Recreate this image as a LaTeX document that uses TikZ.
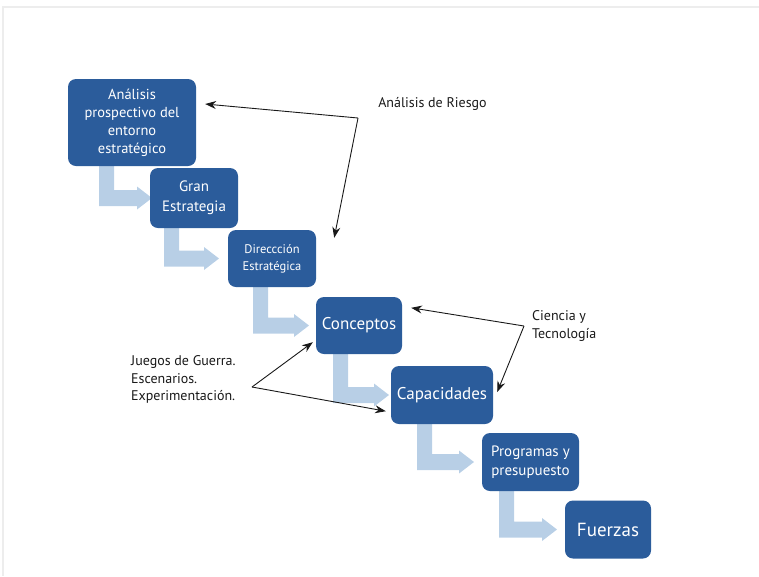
\documentclass[tikz,border=0pt]{standalone}
\usepackage{fontspec}
\setmainfont{PT Sans}
\usepackage{tikz}
\usetikzlibrary{arrows.meta,calc,backgrounds}
\usepackage{xcolor}
\definecolor{boxblue}{HTML}{2B5C9B}
\definecolor{flowblue}{HTML}{B8CFE6}

\begin{document}
\begin{tikzpicture}[x=1pt, y=-1pt,
  box/.style={fill=boxblue, rounded corners=8pt, text=white, align=center, inner sep=2pt},
  flow/.style={fill=flowblue},
  conn/.style={-{Stealth[length=3.8mm, width=2.8mm]}, line width=0.9pt, black!90},
  lbl/.style={font=\fontsize{14}{17.5}\selectfont, align=left, text=black!90, inner sep=0pt}]
  \useasboundingbox (0,0) rectangle (759,576);
  \draw[black!7, line width=1.5pt] (3,576) -- (3,7) -- (759,7);
  % etapas
  \node[box, minimum width=128pt, minimum height=87pt, font=\fontsize{14.5}{18}\selectfont] (ana) at (132,122.5) {Análisis\\prospectivo del\\entorno\\estratégico};
  \node[box, minimum width=88pt, minimum height=60pt, font=\fontsize{15}{20}\selectfont] (gran) at (194,198) {Gran\\Estrategia};
  \node[box, minimum width=88pt, minimum height=57pt, font=\fontsize{12.5}{17}\selectfont] (dir) at (272,258.5) {Direccción\\Estratégica};
  \node[box, minimum width=86pt, minimum height=57pt, font=\fontsize{17}{20}\selectfont] (con) at (359,325.5) {Conceptos};
  \node[box, minimum width=102pt, minimum height=58pt, font=\fontsize{17}{20}\selectfont] (cap) at (442,395) {Capacidades};
  \node[box, minimum width=97pt, minimum height=58pt, font=\fontsize{15}{18.5}\selectfont] (prog) at (530.5,462) {Programas y\\presupuesto};
  \node[box, minimum width=86pt, minimum height=58pt, font=\fontsize{19}{22}\selectfont] (fue) at (608,529.5) {Fuerzas};
  % flechas de flujo
  \begin{scope}[on background layer]
    \foreach \a/\b/\xs/\xt in {ana/gran/99/152, gran/dir/164/219, dir/con/253/309,
                               con/cap/333/389, cap/prog/417/474, prog/fue/499/557}
      \fill[flow] let \p1=(\a.south), \p2=(\b.west) in
        (\xs pt,\y1) -- (\xs pt+15pt,\y1) -- (\xs pt+15pt,\y2+8pt) -- (\xt pt-15pt,\y2+8pt)
        -- (\xt pt-15pt,\y2+11.5pt) -- (\xt pt,\y2) -- (\xt pt-15pt,\y2-11.5pt)
        -- (\xt pt-15pt,\y2-8pt) -- (\xs pt,\y2-8pt) -- cycle;
  \end{scope}
  % etiquetas
  \node[lbl] (riesgo) at (432.5,104) {Análisis de Riesgo};
  \node[lbl] (ciencia) at (532,326) [anchor=west] {Ciencia y\\Tecnología};
  \node[lbl] (juegos) at (131,379.5) [anchor=west] {Juegos de Guerra.\\Escenarios.\\Experimentación.};
  \coordinate (rb) at (358,118);
  \coordinate (ct) at (524,326);
  \coordinate (jg) at (252,387);
  \draw[conn] (rb) -- ([xshift=9pt,yshift=18.5pt]ana.east);
  \draw[conn] (rb) -- ([xshift=18pt,yshift=-8pt]dir.north east);
  \draw[conn] (ct) -- ([xshift=9pt,yshift=-11pt]con.north east);
  \draw[conn] (ct) -- ([xshift=4pt,yshift=3pt]cap.east);
  \draw[conn] (jg) -- ([xshift=-3pt,yshift=12pt]con.south west);
  \draw[conn] (jg) -- ([xshift=-5pt,yshift=13pt]cap.south west);
\end{tikzpicture}
\end{document}
